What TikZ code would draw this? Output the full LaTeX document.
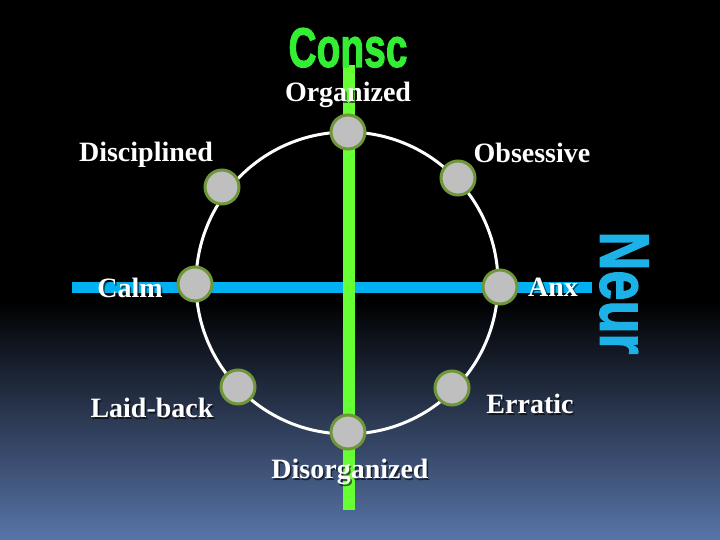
\documentclass[tikz,border=0pt]{standalone}
\usepackage{fontspec}
\setmainfont{Liberation Serif}
\newfontfamily\impactfont[FakeBold=2]{Liberation Sans}
\definecolor{bgblue}{RGB}{88,116,168}
\definecolor{limegreen}{RGB}{102,255,51}
\definecolor{conscgreen}{RGB}{51,238,51}
\definecolor{axisblue}{RGB}{0,176,240}
\definecolor{neurblue}{RGB}{28,178,232}
\definecolor{nodegray}{RGB}{191,191,191}
\definecolor{nodeedge}{RGB}{112,150,58}
\tikzset{
  pole/.style={circle, minimum size=34pt, inner sep=0pt, fill=nodegray, draw=nodeedge, line width=3pt},
  lbl/.style={text=white, font=\bfseries\fontsize{28}{30}\selectfont, inner sep=0pt},
  shadowed/.style={text=black, opacity=0.6, font=\bfseries\fontsize{28}{30}\selectfont, inner sep=0pt},
}
\newcommand{\mylabel}[3]{%
  \node[shadowed] at ($(#1)+(1.5,1.5)$) {#3};
  \node[lbl] (#2) at (#1) {#3};}
\usetikzlibrary{calc}
\begin{document}
\begin{tikzpicture}[x=1pt,y=-1pt]
\useasboundingbox (0,0) rectangle (720,540);
\fill[black] (0,0) rectangle (720,540);
\shade[top color=black, bottom color=bgblue] (0,300) rectangle (720,540);
% ring
\draw[white, line width=3pt] (347,283) circle (151pt);
% axes
\coordinate (bl) at (72,287);
\coordinate (br) at (592,287);
\coordinate (gt) at (349,65);
\coordinate (gb) at (349,510);
\draw[axisblue, line width=11pt] (bl) -- (br);
\draw[limegreen, line width=12pt] (gt) -- (gb);
% poles
\node[pole] (org) at (348,132) {};
\node[pole] (dis) at (222,187) {};
\node[pole] (obs) at (458,178) {};
\node[pole] (calm) at (195,284) {};
\node[pole] (anx) at (500,287) {};
\node[pole] (laid) at (238,387) {};
\node[pole] (err) at (452,388) {};
\node[pole] (disorg) at (348,432) {};
% labels
\mylabel{348,95}{torg}{Organized}
\mylabel{146,155}{tdis}{Disciplined}
\mylabel{532,153}{tobs}{Obsessive}
\mylabel{130,288}{tcalm}{Calm}
\mylabel{553,287}{tanx}{Anx}
\mylabel{152,408}{tlaid}{Laid-back}
\mylabel{530,404}{terr}{Erratic}
\mylabel{350,472}{tdisorg}{Disorganized}
% titles
\node[inner sep=0pt, text=conscgreen, anchor=base] (consc) at (348,67)
  {\resizebox{119pt}{39pt}{\impactfont\bfseries Consc}};
\node[inner sep=0pt, text=neurblue, rotate=-90] (neur) at (624,293)
  {\resizebox{123pt}{48pt}{\impactfont\bfseries Neur}};
\end{tikzpicture}
\end{document}
